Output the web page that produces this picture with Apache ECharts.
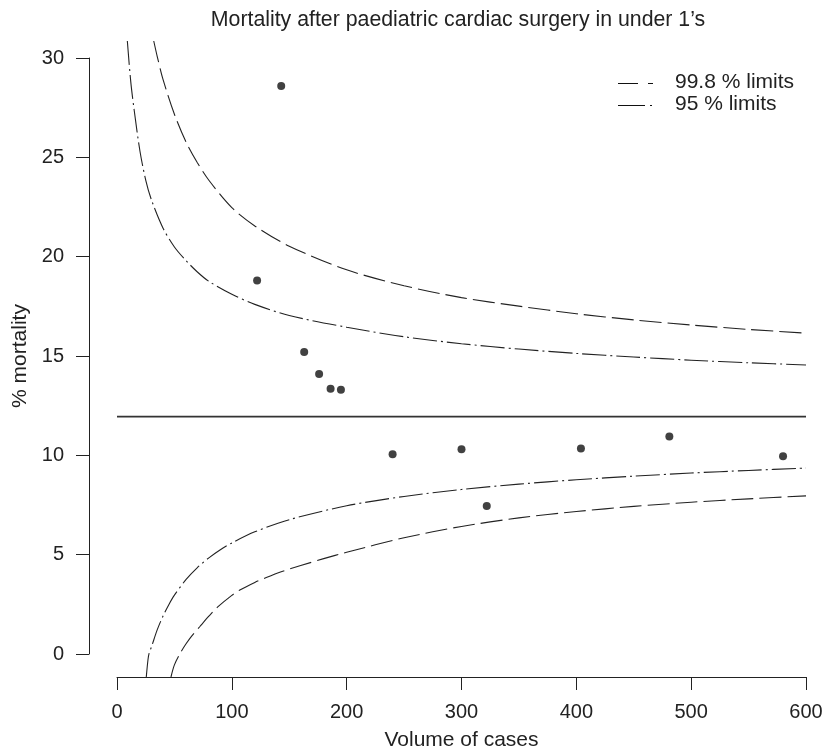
<!DOCTYPE html>
<html>
<head>
<meta charset="utf-8">
<script src="https://cdn.jsdelivr.net/npm/echarts@6/dist/echarts.min.js"></script>
<style>
  html, body { margin: 0; padding: 0; background: #fff; }
  #chart { width: 826px; height: 752px; }
</style>
</head>
<body>
<div id="chart"></div>
<script>
// Hospitals: volume of cases and % mortality
const volume    = [122, 143, 163, 176, 186, 195, 240, 300, 322, 404, 481, 580];
const mortality = [18.8, 28.6, 15.2, 14.1, 13.35, 13.3, 10.05, 10.3, 7.45, 10.35, 10.95, 9.95];

const overallMean = 11.95;

// 95 % limits
const upper95N = [9, 12, 15, 20, 25, 30, 40, 50, 60, 70, 80, 100, 120, 150, 200, 250, 300, 350, 400, 450, 500, 550, 600];
const upper95  = [30.86, 28.8, 27.36, 25.31, 23.86, 22.86, 21.45, 20.49, 19.81, 19.23, 18.76, 18.11, 17.6, 17.04, 16.45, 15.97, 15.62, 15.35, 15.13, 14.95, 14.79, 14.66, 14.55];
const lower95N = [25.5, 27, 28, 30, 35, 40, 45, 50, 60, 70, 80, 90, 100, 120, 150, 200, 250, 300, 350, 400, 450, 500, 550, 600];
const lower95  = [-1.16, -0.28, 0.04, 0.35, 1.21, 1.9, 2.47, 2.96, 3.74, 4.35, 4.84, 5.25, 5.59, 6.15, 6.76, 7.46, 7.93, 8.28, 8.55, 8.77, 8.95, 9.11, 9.24, 9.36];

// 99.8 % limits
const upper998N = [32, 35, 40, 50, 60, 70, 80, 100, 120, 150, 200, 250, 300, 350, 400, 450, 500, 550, 600];
const upper998  = [30.86, 30.09, 28.94, 27.17, 25.79, 24.73, 23.85, 22.47, 21.55, 20.53, 19.34, 18.54, 17.94, 17.51, 17.13, 16.82, 16.56, 16.34, 16.15];
const lower998N = [47, 50, 55, 60, 65, 72, 80, 88, 100, 107, 120, 130, 143, 160, 180, 200, 250, 300, 350, 400, 450, 500, 550, 600];
const lower998  = [-1.16, -0.55, 0.03, 0.5, 0.9, 1.37, 1.9, 2.38, 2.95, 3.22, 3.6, 3.85, 4.14, 4.45, 4.8, 5.12, 5.85, 6.42, 6.85, 7.17, 7.43, 7.64, 7.81, 7.96];

const xTicks = [0, 100, 200, 300, 400, 500, 600];
const yTicks = [0, 5, 10, 15, 20, 25, 30];

const titleText = "Mortality after paediatric cardiac surgery in under 1\u2019s";
const xName = "Volume of cases";
const yName = "% mortality";
const legendNames = ['99.8 % limits', '95 % limits'];

const FONT = "'Liberation Sans', Arial, Helvetica, sans-serif";
const INK = '#222';

function pairs(xs, ys) { return xs.map((x, i) => [x, ys[i]]); }

const dash998 = [22, 6];
const dash95 = [24, 4, 2, 4];

const chart = echarts.init(document.getElementById('chart'), null, { renderer: 'canvas' });

chart.setOption({
  backgroundColor: '#fff',
  animation: false,
  textStyle: { fontFamily: FONT, color: INK },
  title: {
    text: titleText,
    left: 453, top: 5,
    textAlign: 'center',
    textStyle: { fontFamily: FONT, fontSize: 21.3, fontWeight: 'normal', color: INK }
  },
  graphic: [
    { type: 'line', shape: { x1: 618, y1: 83.5, x2: 653, y2: 83.5 },
      style: { stroke: '#111', lineWidth: 1.2, lineDash: [20, 10] } },
    { type: 'text', x: 675, y: 82,
      style: { text: legendNames[0], fontFamily: FONT, fontSize: 21, fill: INK, verticalAlign: 'middle' } },
    { type: 'line', shape: { x1: 618, y1: 105.5, x2: 653, y2: 105.5 },
      style: { stroke: '#111', lineWidth: 1.2, lineDash: [27, 5, 2, 5] } },
    { type: 'text', x: 675, y: 104,
      style: { text: legendNames[1], fontFamily: FONT, fontSize: 21, fill: INK, verticalAlign: 'middle' } }
  ],
  grid: [
    { left: 117, right: 20, top: 41, bottom: 75, containLabel: false, outerBoundsMode: 'none' },
    { left: 117, right: 20, top: 58, bottom: 98, containLabel: false, outerBoundsMode: 'none' }
  ],
  xAxis: [
    { gridIndex: 0, type: 'value', min: 0, max: 600, show: false },
    {
      gridIndex: 1, type: 'value', min: xTicks[0], max: xTicks[xTicks.length - 1], interval: 100,
      offset: 23,
      axisLine: { show: true, onZero: false, lineStyle: { color: INK, width: 1 } },
      axisTick: { show: true, length: 13, lineStyle: { color: INK, width: 1 } },
      axisLabel: { margin: 25, fontSize: 20, color: INK, fontFamily: FONT },
      splitLine: { show: false },
      name: xName, nameLocation: 'middle', nameGap: 53,
      nameTextStyle: { fontSize: 21, color: INK, fontFamily: FONT }
    }
  ],
  yAxis: [
    { gridIndex: 0, type: 'value', min: -1.16, max: 30.86, show: false },
    {
      gridIndex: 1, type: 'value', min: yTicks[0], max: yTicks[yTicks.length - 1], interval: 5,
      offset: 28,
      axisLine: { show: true, onZero: false, lineStyle: { color: INK, width: 1 } },
      axisTick: { show: true, length: 13, lineStyle: { color: INK, width: 1 } },
      axisLabel: { margin: 25, fontSize: 20, color: INK, fontFamily: FONT },
      splitLine: { show: false },
      name: yName, nameLocation: 'middle', nameGap: 56, nameRotate: 90,
      nameTextStyle: { fontSize: 21, color: INK, fontFamily: FONT }
    }
  ],
  series: [
    {
      name: 'mean', type: 'line', xAxisIndex: 0, yAxisIndex: 0,
      data: [[xTicks[0], overallMean], [xTicks[xTicks.length - 1], overallMean]],
      symbol: 'none', lineStyle: { color: '#333', width: 1.6, type: 'solid' }, silent: true
    },
    {
      name: legendNames[0], type: 'line', xAxisIndex: 0, yAxisIndex: 0,
      data: pairs(upper998N, upper998), symbol: 'none', smooth: 0.3,
      lineStyle: { color: INK, width: 1.1, type: dash998 }
    },
    {
      name: legendNames[0], type: 'line', xAxisIndex: 0, yAxisIndex: 0,
      data: pairs(lower998N, lower998), symbol: 'none', smooth: 0.3,
      lineStyle: { color: INK, width: 1.1, type: dash998 }
    },
    {
      name: legendNames[1], type: 'line', xAxisIndex: 0, yAxisIndex: 0,
      data: pairs(upper95N, upper95), symbol: 'none', smooth: 0.3,
      lineStyle: { color: INK, width: 1.1, type: dash95 }
    },
    {
      name: legendNames[1], type: 'line', xAxisIndex: 0, yAxisIndex: 0,
      data: pairs(lower95N, lower95), symbol: 'none', smooth: 0.3,
      lineStyle: { color: INK, width: 1.1, type: dash95 }
    },
    {
      name: 'hospitals', type: 'scatter', xAxisIndex: 0, yAxisIndex: 0,
      data: pairs(volume, mortality), symbol: 'circle', symbolSize: 8,
      itemStyle: { color: '#111' }
    }
  ]
});
</script>
</body>
</html>
